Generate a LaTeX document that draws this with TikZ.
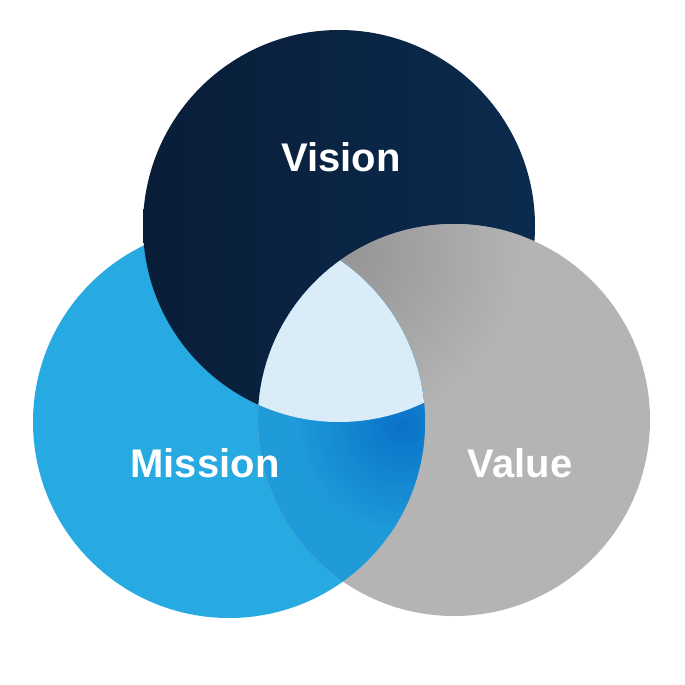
\documentclass[tikz,border=0pt]{standalone}
\usepackage{fontspec}
\setmainfont{Liberation Sans}
\definecolor{navyL}{RGB}{9,29,56}
\definecolor{navyR}{RGB}{11,43,78}
\definecolor{missionblue}{RGB}{39,169,225}
\definecolor{overlapblue}{RGB}{31,155,218}
\definecolor{overlapdark}{RGB}{9,114,200}
\definecolor{valuegray}{RGB}{180,180,180}
\definecolor{valuedark}{RGB}{150,150,150}
\definecolor{centerlight}{RGB}{217,236,248}
\begin{document}
\begin{tikzpicture}[x=1pt,y=-1pt,
  lbl/.style={text=white, font=\fontsize{40}{48}\selectfont\bfseries, anchor=base, inner sep=0pt}]
\fill[white] (0,0) rectangle (685,685);
\useasboundingbox (0,0) rectangle (685,685);
\coordinate (cV) at (339,226);
\coordinate (cM) at (229,422);
\coordinate (cA) at (454,420);
% Mission (base)
\fill[missionblue] (cM) circle[radius=196pt];
% Vision (over Mission)
\shade[left color=navyL, right color=navyR] (cV) circle[radius=196pt];
% Value (over Vision)
\fill[valuegray] (cA) circle[radius=196pt];
\begin{scope}
  \clip (cA) circle[radius=196pt];
  \shade[inner color=valuedark, outer color=valuegray] (352,255) circle[radius=170pt];
\end{scope}
% Mission over Value
\begin{scope}
  \clip (cM) circle[radius=196pt];
  \clip (cA) circle[radius=196pt];
  \fill[overlapblue] (cA) circle[radius=196pt];
  \shade[inner color=overlapdark, outer color=overlapblue] (402,426) circle[radius=110pt];
\end{scope}
% Triple intersection
\begin{scope}
  \clip (cV) circle[radius=196pt];
  \clip (cM) circle[radius=196pt];
  \clip (cA) circle[radius=196pt];
  \fill[centerlight] (cA) circle[radius=196pt];
\end{scope}
% Labels
\node[lbl] (vision) at (341,171) {Vision};
\node[lbl] (mission) at (205,477) {Mission};
\node[lbl] (value) at (520,477) {Value};
\end{tikzpicture}
\end{document}
